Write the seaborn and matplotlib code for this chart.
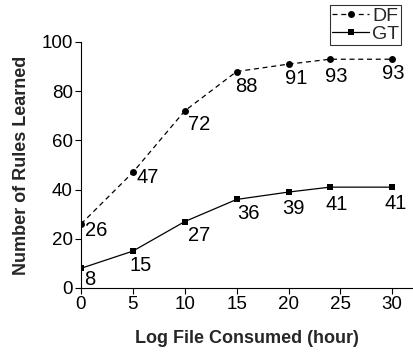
import matplotlib
matplotlib.use("Agg")
import matplotlib.pyplot as plt
import seaborn as sns
import pandas as pd

hours = [0, 5, 10, 15, 20, 24, 30]
df_rules = [26, 47, 72, 88, 91, 93, 93]
gt_rules = [8, 15, 27, 36, 39, 41, 41]
xticks = [0, 5, 10, 15, 20, 25, 30]
yticks = [0, 20, 40, 60, 80, 100]

sns.set_theme(style="ticks")
plt.rcParams['font.family'] = ['Liberation Sans', 'DejaVu Sans']

fig = plt.figure(figsize=(4.13, 3.54), dpi=100)
ax = fig.add_axes([81/413, 1-288/354, (413-81)/413, (288-42)/354])

data_df = pd.DataFrame({"x": hours, "y": df_rules})
data_gt = pd.DataFrame({"x": hours, "y": gt_rules})
sns.lineplot(data=data_df, x="x", y="y", ax=ax, color="black", linestyle=(0, (4, 3)),
             linewidth=0.9, marker="o", markersize=5, markeredgewidth=0, label="DF")
sns.lineplot(data=data_gt, x="x", y="y", ax=ax, color="black", linestyle="-",
             linewidth=0.9, marker="s", markersize=5, markeredgewidth=0, label="GT")

# label offsets (pixels): dx to text left, dy downwards to text centre
df_off = [(4, -6), (4, -5), (3, -14), (-1, -15), (-4, -14), (-5, -17), (-10, -14)]
gt_off = [(3, -11), (-3, -14), (3, -14), (1, -14), (-6, -16), (-5, -17), (-8, -16)]
for x, y, (dx, dy) in zip(hours, df_rules, df_off):
    ax.annotate(str(y), (x, y), xytext=(dx, dy), textcoords="offset pixels",
                ha="left", va="center", fontsize=14.5, color="black")
for x, y, (dx, dy) in zip(hours, gt_rules, gt_off):
    ax.annotate(str(y), (x, y), xytext=(dx, dy), textcoords="offset pixels",
                ha="left", va="center", fontsize=14.5, color="black")

ax.set_xlim(0, 32)
ax.set_ylim(0, 100)
ax.set_xticks(xticks)
ax.set_yticks(yticks)
ax.tick_params(axis="both", labelsize=13.5, length=4, width=0.8, color="black",
               labelcolor="black", pad=2)
for s in ["top", "right"]:
    ax.spines[s].set_visible(False)
for s in ["left", "bottom"]:
    ax.spines[s].set_color("black")
    ax.spines[s].set_linewidth(0.8)
ax.spines["left"].set_bounds(0, 100)

ax.set_xlabel("Log File Consumed (hour)", fontsize=13, fontweight="bold", labelpad=12)
ax.set_ylabel("Number of Rules Learned", fontsize=13, fontweight="bold", labelpad=8)

leg = ax.legend(loc="upper right", bbox_to_anchor=(401/413, 1-5/354),
                bbox_transform=fig.transFigure, fontsize=14, frameon=True,
                fancybox=False, handlelength=1.9, handletextpad=0.15,
                borderpad=0.1, labelspacing=0.05, borderaxespad=0)
leg.get_frame().set_edgecolor("black")
leg.get_frame().set_linewidth(0.8)

fig.savefig("out.png", dpi=100)
